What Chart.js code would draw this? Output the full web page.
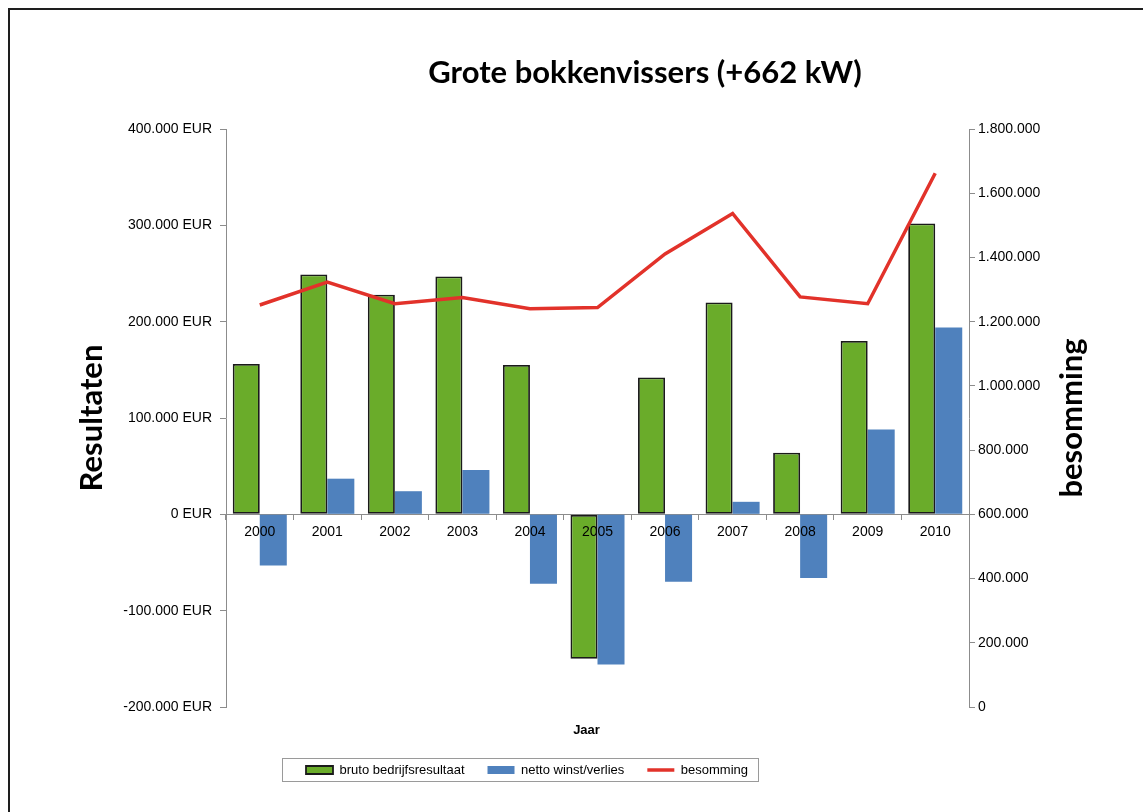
<!DOCTYPE html>
<html>
<head>
<meta charset="utf-8">
<script src="https://cdn.jsdelivr.net/npm/chart.js@4.4.1/dist/chart.umd.min.js"></script>
<style>
  html, body { margin: 0; padding: 0; background: #fff; overflow: hidden; }
  #wrap { position: relative; width: 1143px; height: 812px; }
  #frame { position: absolute; left: 8px; top: 8px; width: 1200px; height: 900px; border: 2px solid #1e1e1e; box-sizing: border-box; pointer-events: none; }
  canvas { position: absolute; left: 0; top: 0; }
</style>
</head>
<body>
<div id="wrap">
  <canvas id="chart" width="1143" height="812"></canvas>
  <div id="frame"></div>
</div>
<script>
const years = ['2000', '2001', '2002', '2003', '2004', '2005', '2006', '2007', '2008', '2009', '2010'];
const brutoResultaat = [156000, 249000, 228000, 247000, 155000, -150000, 142000, 220000, 64000, 180000, 302000];
const nettoWinst = [-53000, 37000, 24000, 46000, -72000, -156000, -70000, 13000, -66000, 88000, 194000];
const besomming = [1252000, 1323000, 1256000, 1275000, 1240000, 1244000, 1411000, 1537000, 1277000, 1256000, 1662000];

const GREEN = '#6aac2a';
const BLUE = '#4f81bd';
const RED = '#e2322a';
const AXIS = '#8c8c8c';
const TITLE_FONT = 'Lato';

// 1234567 -> "1.234.567"
function dots(v) {
  return String(Math.round(v)).replace(/\B(?=(\d{3})+(?!\d))/g, '.');
}

Chart.defaults.font.family = "'Liberation Sans', Arial, sans-serif";
Chart.defaults.font.size = 14;
Chart.defaults.color = '#000';

// schuift titel en legenda naar hun plek, tekent rechter astitel en legendakader
const extras = {
  id: 'extras',
  afterUpdate(chart) {
    const t = chart.titleBlock;
    const dt = 645 - (t.left + t.right) / 2;
    t.left += dt; t.right += dt;

    const lg = chart.legend;
    const hb = lg.legendHitBoxes;
    if (hb && hb.length) {
      const dl = 306 - hb[0].left;
      lg.left += dl; lg.right += dl;
      hb.forEach(h => { h.left += dl; });
    }
  },
  afterDraw(chart) {
    const ctx = chart.ctx;
    const s = chart.scales.y1;
    ctx.save();
    ctx.translate(s.left + 103, (s.top + s.bottom) / 2);
    ctx.rotate(-Math.PI / 2);
    ctx.font = 'bold 31px ' + TITLE_FONT;
    ctx.textAlign = 'center';
    ctx.textBaseline = 'middle';
    ctx.fillStyle = '#000';
    ctx.fillText('besomming', 0, 0);
    ctx.restore();

    const hb = chart.legend.legendHitBoxes;
    if (hb && hb.length) {
      const last = hb[hb.length - 1];
      const x0 = hb[0].left - 24;
      const x1 = last.left + last.width + 10;
      const yc = hb[0].top + hb[0].height / 2;
      ctx.save();
      ctx.strokeStyle = '#9a9a9a';
      ctx.lineWidth = 1;
      ctx.strokeRect(Math.round(x0) + 0.5, Math.round(yc - 12) + 0.5, Math.round(x1 - x0), 23);
      ctx.restore();
    }
  }
};

new Chart(document.getElementById('chart'), {
  type: 'bar',
  data: {
    labels: years,
    datasets: [
      {
        label: 'bruto bedrijfsresultaat',
        data: brutoResultaat,
        backgroundColor: GREEN,
        borderColor: '#1a1a1a',
        borderWidth: 1.8,
        borderSkipped: false,
        pointStyle: 'rect',
        yAxisID: 'y',
        order: 2,
        categoryPercentage: 0.8,
        barPercentage: 1.0
      },
      {
        label: 'netto winst/verlies',
        data: nettoWinst,
        backgroundColor: BLUE,
        borderColor: BLUE,
        borderWidth: 0,
        pointStyle: 'rect',
        yAxisID: 'y',
        order: 3,
        categoryPercentage: 0.8,
        barPercentage: 1.0
      },
      {
        type: 'line',
        label: 'besomming',
        data: besomming,
        borderColor: RED,
        backgroundColor: RED,
        borderWidth: 3.5,
        pointRadius: 0,
        pointStyle: 'line',
        tension: 0,
        yAxisID: 'y1',
        order: 1
      }
    ]
  },
  options: {
    responsive: false,
    animation: false,
    devicePixelRatio: 1,
    layout: { padding: { top: 20, left: 60, right: 30, bottom: 25.5 } },
    plugins: {
      title: {
        display: true,
        text: 'Grote bokkenvissers (+662 kW)',
        font: { family: TITLE_FONT, size: 31, weight: 'bold' },
        color: '#000',
        padding: { top: 34.4, bottom: 37.4 }
      },
      subtitle: {
        display: true,
        position: 'bottom',
        weight: 500,
        text: 'Jaar',
        font: { size: 13, weight: 'bold' },
        color: '#000',
        padding: { top: 15.2, bottom: 2.7 }
      },
      legend: {
        position: 'bottom',
        labels: {
          usePointStyle: true,
          pointStyleWidth: 27,
          boxHeight: 8,
          padding: 23,
          font: { size: 13 },
          color: '#000',
          sort: (a, b) => a.datasetIndex - b.datasetIndex
        }
      },
      tooltip: { enabled: false }
    },
    scales: {
      x: {
        position: { y: 0 },
        grid: { drawOnChartArea: false, drawTicks: true, tickLength: 5, color: AXIS },
        border: { color: AXIS },
        ticks: { padding: 4, z: 1, color: '#000', maxRotation: 0 }
      },
      y: {
        position: 'left',
        min: -200000,
        max: 400000,
        ticks: { stepSize: 100000, padding: 8, callback: v => dots(v) + ' EUR' },
        grid: { drawOnChartArea: false, tickLength: 6, color: AXIS },
        border: { color: AXIS },
        title: {
          display: true,
          text: 'Resultaten',
          font: { family: TITLE_FONT, size: 31, weight: 'bold' },
          color: '#000',
          padding: { top: 13.4, bottom: 0 }
        },
        afterFit: s => { s.width = 166; }
      },
      y1: {
        position: 'right',
        min: 0,
        max: 1800000,
        ticks: { stepSize: 200000, padding: 3, callback: v => dots(v) },
        grid: { drawOnChartArea: false, tickLength: 6, color: AXIS },
        border: { color: AXIS },
        afterFit: s => { s.width = 144; }
      }
    }
  },
  plugins: [extras]
});
</script>
</body>
</html>
